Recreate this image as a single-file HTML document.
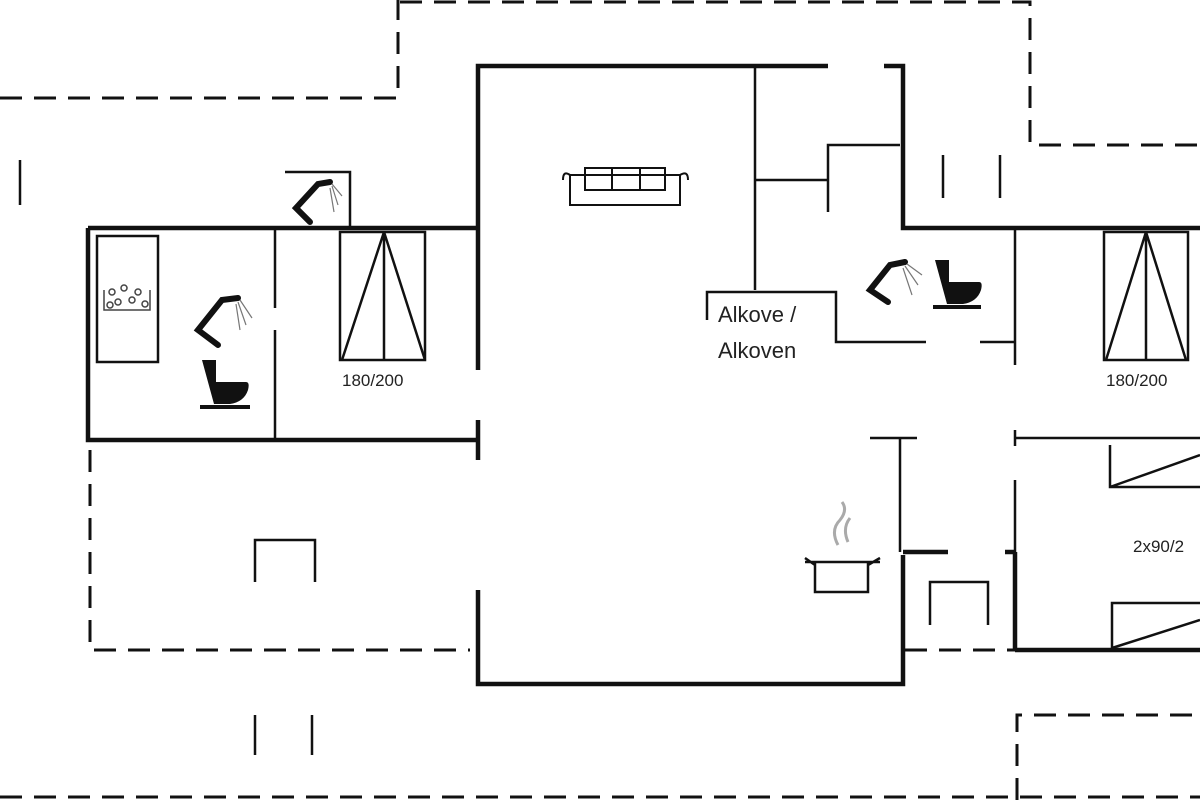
<!DOCTYPE html>
<html><head><meta charset="utf-8"><style>html,body{margin:0;background:#fff}svg{display:block}</style></head>
<body>
<svg width="1200" height="800" viewBox="0 0 1200 800" xmlns="http://www.w3.org/2000/svg" font-family="Liberation Sans, sans-serif">
<g stroke="#111" fill="none" stroke-width="3" stroke-dasharray="22,12">
<path d="M0 98H398V0"/><path d="M400 2H1030V145H1200"/>
<path d="M90 450V650H470"/><path d="M0 797H1200"/>
<path d="M1017 800V715H1200"/><path d="M905 650H1015"/>
</g>
<g stroke="#111" fill="none" stroke-width="2.5">
<path d="M20 160V205M255 715V755M312 715V755M943 155V198M1000 155V198"/>
<path d="M755 66V290M755 180H828M828 212V145H900"/>
<path d="M707 320V292H836V342H926M980 342H1015M1015 228V365"/>
<path d="M870 438H917M900 438V552M1015 438H1200M1015 430V446M1015 480V552"/>
<path d="M275 228V308M275 330V438"/>
<path d="M285 172H350V228"/>
<rect x="340" y="232" width="85" height="128"/><path d="M384 232V360M384 232L342 360M384 232L425 360"/>
<rect x="1104" y="232" width="84" height="128"/><path d="M1146 232V360M1146 232L1106 360M1146 232L1186 360"/>
<rect x="97" y="236" width="61" height="126"/>
<path d="M1110 445V487H1200M1110 487L1200 455M1112 648V603H1200M1112 648L1200 620"/>
<path d="M255 582V540H315V582M930 625V582H988V625"/>
<path d="M805 562H880M815 562V592H868V562M805 558L815 565M880 558L868 565"/>
<path d="M570 175H680V205H570ZM585 168H665V190H585ZM612 168V190M640 168V190M563 180Q563 170 570 175M688 180Q688 170 680 175" stroke-width="2"/>
</g>
<path d="M838 545Q830 530 840 520Q848 510 842 502M848 542Q842 528 850 518" stroke="#aaa" stroke-width="3" fill="none"/>
<g stroke="#111" fill="none" stroke-width="4.5">
<path d="M478 228V66H828M884 66H903V228H1200"/>
<path d="M478 228V370M478 420V460M478 590V684H903V555"/>
<path d="M88 228H478M88 228V440H478"/>
<path d="M1015 650H1200M1015 552V650M903 552H948M1005 552H1015"/>
</g>
<!-- showers -->
<g stroke="#111" fill="none" stroke-width="6" stroke-linecap="round">
<path d="M310 222L296 208L318 184L330 182"/>
<path d="M218 345L198 330L222 300L238 298"/>
<path d="M888 302L870 290L890 265L905 262"/>
</g>
<g stroke="#777" stroke-width="1.2">
<path d="M332 184L342 196M332 186L338 205M330 188L334 212"/>
<path d="M240 300L252 318M238 302L246 325M236 304L240 330"/>
<path d="M907 264L922 275M905 266L918 285M903 268L912 295"/>
</g>
<!-- toilets -->
<g fill="#111">
<path d="M202 360h14v22h30q4 0 2 8q-4 12-18 14h-16z"/><rect x="200" y="405" width="50" height="4"/>
<path d="M935 260h14v22h30q4 0 2 8q-4 12-18 14h-16z"/><rect x="933" y="305" width="48" height="4"/>
</g>
<g stroke="#444" fill="none" stroke-width="1.5"><path d="M104 290v20h46v-20"/>
<circle cx="112" cy="292" r="3"/><circle cx="124" cy="288" r="3"/><circle cx="138" cy="292" r="3"/><circle cx="118" cy="302" r="3"/><circle cx="132" cy="300" r="3"/><circle cx="145" cy="304" r="3"/><circle cx="110" cy="305" r="3"/></g>
<g fill="#222" font-size="17">
<text x="342" y="386">180/200</text><text x="1106" y="386">180/200</text><text x="1133" y="552">2x90/2</text>
</g>
<g fill="#222" font-size="22"><text x="718" y="322">Alkove /</text><text x="718" y="358">Alkoven</text></g>
</svg>
</body></html>
